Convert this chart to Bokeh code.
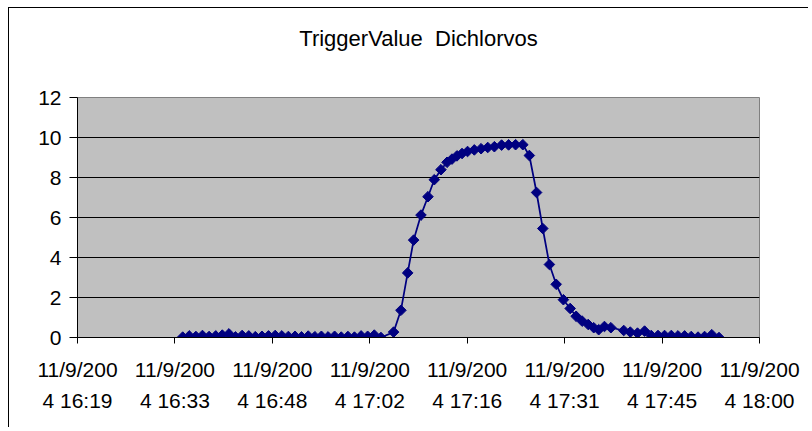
import numpy as np
from bokeh.plotting import figure
from bokeh.models import FixedTicker, Range1d, Title
from bokeh.embed import file_html
from bokeh.resources import INLINE

# Sample times (11/9/2004) and TriggerValue readings for Dichlorvos
times = [
    "16:34:45", "16:35:43", "16:36:42", "16:37:40", "16:38:39", "16:39:38", "16:40:36",
    "16:41:35", "16:42:33", "16:43:32", "16:44:31", "16:45:29", "16:46:28", "16:47:26",
    "16:48:25", "16:49:24", "16:50:22", "16:51:21", "16:52:19", "16:53:18", "16:54:17",
    "16:55:15", "16:56:14", "16:57:12", "16:58:11", "16:59:10", "17:00:08", "17:01:07",
    "17:02:05", "17:03:04", "17:04:03",
    "17:05:55", "17:07:00", "17:08:00", "17:08:53", "17:09:58", "17:11:00", "17:11:56",
    "17:12:55", "17:13:49", "17:14:33", "17:15:17", "17:16:02", "17:16:51", "17:17:51",
    "17:18:51", "17:19:50", "17:20:49", "17:21:53", "17:22:55", "17:23:57", "17:25:01",
    "17:25:59", "17:27:03", "17:27:58", "17:28:57", "17:29:57", "17:31:01", "17:32:01",
    "17:32:54", "17:33:47", "17:34:41", "17:35:30", "17:36:14", "17:37:05", "17:38:02",
    "17:39:56", "17:40:54", "17:41:58", "17:43:01", "17:44:00", "17:45:00", "17:45:58",
    "17:46:58", "17:47:57", "17:48:56", "17:49:55", "17:50:55", "17:51:53", "17:52:57",
    "17:54:01",
]
values = [
    0.02, 0.08, 0.05, 0.10, 0.05, 0.08, 0.12,
    0.18, 0.03, 0.10, 0.08, 0.04, 0.06, 0.08,
    0.10, 0.08, 0.05, 0.06, 0.03, 0.07, 0.04,
    0.06, 0.03, 0.06, 0.02, 0.05, 0.02, 0.08,
    0.06, 0.12, 0.00,
    0.27, 1.36, 3.23, 4.87, 6.12, 7.04, 7.89,
    8.39, 8.76, 8.92, 9.08, 9.20, 9.30, 9.38,
    9.44, 9.50, 9.54, 9.62, 9.63, 9.64, 9.64,
    9.10, 7.25, 5.45, 3.65, 2.66, 1.89, 1.45,
    1.06, 0.82, 0.65, 0.49, 0.39, 0.55, 0.49,
    0.35, 0.27, 0.22, 0.32, 0.10, 0.10, 0.10,
    0.10, 0.08, 0.08, 0.05, 0.02, 0.05, 0.14,
    0.00,
]

# Excel date-axis ticks (fractions of a day 0.68 .. 0.75, expressed in minutes)
tick_minutes = [979.2, 993.6, 1008.0, 1022.4, 1036.8, 1051.2, 1065.6, 1080.0]
tick_labels = [
    "11/9/200\n4 16:19", "11/9/200\n4 16:33", "11/9/200\n4 16:48", "11/9/200\n4 17:02",
    "11/9/200\n4 17:16", "11/9/200\n4 17:31", "11/9/200\n4 17:45", "11/9/200\n4 18:00",
]
y_ticks = [0, 2, 4, 6, 8, 10, 12]
title_text = "TriggerValue\u00a0\u00a0Dichlorvos"


def to_minutes(s):
    h, m, sec = (int(v) for v in s.split(":"))
    return h * 60 + m + sec / 60.0


x = [to_minutes(t) for t in times]

FONT = "Liberation Sans"

p = figure(
    width=800, height=420, output_backend="svg", toolbar_location=None,
    x_range=Range1d(tick_minutes[0], tick_minutes[-1]),
    y_range=Range1d(y_ticks[0], y_ticks[-1]),
    min_border_left=68, min_border_right=50, min_border_top=89, min_border_bottom=91,
)
p.styles = {
    "margin-left": "8px", "margin-top": "7px",
    "border-top": "1px solid black", "border-left": "1px solid black",
}

# blank spacer panel between the title and the plot area
p.add_layout(Title(text="\u00a0", text_font=FONT, text_font_size="22px", standoff=15), "above")

p.title.text = title_text
p.title.align = "center"
p.title.text_font = FONT
p.title.text_font_size = "22px"
p.title.text_font_style = "normal"
p.title.text_color = "black"
p.title.standoff = 10

p.background_fill_color = "#C0C0C0"
p.border_fill_color = "white"
p.outline_line_color = "#808080"
p.outline_line_width = 1

p.xgrid.visible = False
p.ygrid.ticker = FixedTicker(ticks=y_ticks[1:-1])
p.ygrid.grid_line_color = "black"
p.ygrid.grid_line_width = 1

p.yaxis.ticker = FixedTicker(ticks=y_ticks)
p.xaxis.ticker = FixedTicker(ticks=tick_minutes)
p.xaxis.major_label_overrides = {t: lab for t, lab in zip(tick_minutes, tick_labels)}

for ax in (p.xaxis[0], p.yaxis[0]):
    ax.axis_line_color = "black"
    ax.axis_line_width = 1
    ax.major_tick_line_color = "black"
    ax.major_tick_in = 0
    ax.minor_tick_line_color = None
    ax.major_label_text_font = FONT
    ax.major_label_text_font_size = "21px"
    ax.major_label_text_color = "black"

p.yaxis.major_tick_out = 8
p.yaxis.major_label_standoff = 8
p.xaxis.major_tick_out = 6
p.xaxis.major_label_standoff = 14
p.xaxis.major_label_text_line_height = 1.38

p.line(x, values, line_color="#000080", line_width=1.75)
p.scatter(x, values, marker="square", angle=np.pi / 4, size=7.5,
          fill_color="#000080", line_color="#000080")

open("out.html", "w").write(file_html(p, INLINE))
